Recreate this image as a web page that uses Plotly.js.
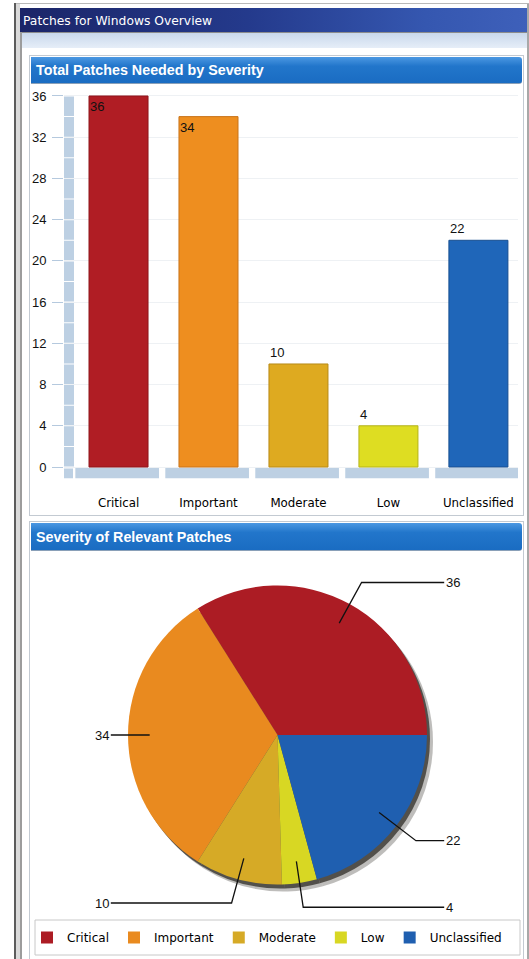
<!DOCTYPE html>
<html>
<head>
<meta charset="utf-8">
<script src="https://cdn.plot.ly/plotly-3.0.1.min.js"></script>
<style>
  html, body { margin:0; padding:0; background:#fff; width:529px; height:959px; overflow:hidden; }
  .c { position:absolute; }
  #chart { position:absolute; left:0; top:0; width:529px; height:959px; }
</style>
</head>
<body>
<!-- window chrome -->
<div class="c" style="left:14px;top:3px;width:515px;height:1px;background:#b9b9b9"></div>
<div class="c" style="left:14px;top:3px;width:2px;height:956px;background:#5c5c5c"></div>
<div class="c" style="left:16px;top:4px;width:4px;height:955px;background:#dadada"></div>
<div class="c" style="left:20px;top:32px;width:2px;height:927px;background:#9c9c9c"></div>
<div class="c" style="left:20px;top:8px;width:507px;height:24px;background:linear-gradient(to right,#1b2568 0%,#243a8c 45%,#3557b0 80%,#3e60ba 100%)"></div>
<div class="c" style="left:22px;top:32px;width:505px;height:1px;background:#8c8c8c"></div>
<div class="c" style="left:22px;top:33px;width:505px;height:15px;background:linear-gradient(#c9d8ec,#e6eef8)"></div>
<div class="c" style="left:527px;top:4px;width:2px;height:955px;background:#a8a8a8"></div>
<!-- panel 1 -->
<div class="c" style="left:29px;top:55px;width:493px;height:459px;border:1px solid #c3cad2;background:#fff"></div>
<div class="c" style="left:31px;top:57px;width:491px;height:26px;background:linear-gradient(#4b98e2,#2276cb 35%,#1a6cc2);border-bottom:1px solid #8aa0b8;border-top-right-radius:3px;border-bottom-right-radius:3px"></div>
<!-- panel 2 -->
<div class="c" style="left:29px;top:521px;width:493px;height:440px;border:1px solid #c3cad2;background:#fff"></div>
<div class="c" style="left:31px;top:523px;width:491px;height:27px;background:linear-gradient(#4b98e2,#2276cb 35%,#1a6cc2);border-bottom:1px solid #8aa0b8;border-top-right-radius:3px;border-bottom-right-radius:3px"></div>

<div id="chart"></div>
<script>
// ---------------- data ----------------
const categories = ['Critical', 'Important', 'Moderate', 'Low', 'Unclassified'];
const patchCounts = [36, 34, 10, 4, 22];
const barColors = ['#b01d24', '#ee8e1f', '#deaa20', '#dedd22', '#1f66b9'];
const barEdge   = ['#8e151b', '#c9741a', '#b88b18', '#b5b41a', '#174f91'];
const pieColors = ['#ac1c24', '#e98a1f', '#d6aa26', '#d8d723', '#1f5fb0'];
const yTickVals = [0, 4, 8, 12, 16, 20, 24, 28, 32, 36];
const windowTitle = 'Patches for Windows Overview';
const barPanelTitle = 'Total Patches Needed by Severity';
const piePanelTitle = 'Severity of Relevant Patches';

// ---------------- geometry helpers (figure = 529 x 959 px, margin 0) ----------------
const W = 529, H = 959;
const px = x => x / W;
const py = y => 1 - y / H;

const barXRange = [-0.606, 4.44];
const barYRange = [-1.2, 36.3];
const pieBox = { x0: 128, x1: 427, y0: 585.5, y1: 884.5 };

const numFont = { family: 'Liberation Sans, Arial, sans-serif', size: 13, color: '#111' };
const catFont = { family: 'DejaVu Sans, sans-serif', size: 11.8, color: '#000' };
const legFont = { family: 'DejaVu Sans, sans-serif', size: 12, color: '#000' };

const total = patchCounts.reduce((a, b) => a + b, 0);
// first slice starts at 3 o'clock and runs counterclockwise
const pieRotation = 90 - 360 * patchCounts[0] / total;

// ---------------- traces ----------------
const traces = [];

traces.push({
  type: 'bar',
  x: categories,
  y: patchCounts,
  width: 0.656,
  marker: { color: barColors, line: { color: barEdge, width: 1 } },
  xaxis: 'x', yaxis: 'y',
  showlegend: false,
  hoverinfo: 'x+y'
});

// pie shadows (same data, dark colours, offset)
const shadowOffsets = [[6, 7, 'rgba(40,38,30,0.3)'], [3, 4, 'rgba(25,22,15,0.65)']];
shadowOffsets.forEach(([dx, dy, col]) => {
  traces.push({
    type: 'pie',
    values: patchCounts,
    labels: categories,
    sort: false,
    direction: 'counterclockwise',
    rotation: pieRotation,
    textinfo: 'none',
    hoverinfo: 'skip',
    showlegend: false,
    marker: { colors: categories.map(() => col), line: { width: 0 } },
    domain: { x: [px(pieBox.x0 + dx), px(pieBox.x1 + dx)], y: [py(pieBox.y1 + dy), py(pieBox.y0 + dy)] }
  });
});

traces.push({
  type: 'pie',
  values: patchCounts,
  labels: categories,
  sort: false,
  direction: 'counterclockwise',
  rotation: pieRotation,
  textinfo: 'none',
  hoverinfo: 'label+value',
  showlegend: true,
  marker: { colors: pieColors, line: { width: 0 } },
  domain: { x: [px(pieBox.x0), px(pieBox.x1)], y: [py(pieBox.y1), py(pieBox.y0)] }
});

// ---------------- shapes & annotations ----------------
const shapes = [];
const annotations = [];

// 3D wall on the left of the bar plot
for (let v = 0; v < yTickVals[yTickVals.length - 1]; v += 2) {
  shapes.push({ type: 'rect', layer: 'below', xref: 'paper', yref: 'y',
    x0: px(64), x1: px(74), y0: v + 0.05, y1: v + 1.95,
    fillcolor: '#bdd0e3', line: { width: 0 } });
}
shapes.push({ type: 'rect', layer: 'below', xref: 'paper', yref: 'y',
  x0: px(64), x1: px(73), y0: -1.1, y1: -0.15, fillcolor: '#bdd0e3', line: { width: 0 } });
// floor segments under each category
categories.forEach((c, i) => {
  shapes.push({ type: 'rect', layer: 'below', xref: 'x', yref: 'y',
    x0: i - 0.48, x1: i + 0.45, y0: -1.1, y1: -0.1,
    fillcolor: '#bdd0e3', line: { width: 0 } });
});

// bar value labels
patchCounts.forEach((v, i) => {
  const inside = v > 30;
  annotations.push({
    xref: 'x', yref: 'y', x: i - 0.335, y: v,
    xanchor: 'left', yanchor: inside ? 'top' : 'bottom',
    yshift: inside ? -1 : 2,
    text: String(v), showarrow: false, font: numFont
  });
});

// panel header titles
const headFont = { family: 'Liberation Sans, Arial, sans-serif', size: 14.3, weight: 700, color: '#ffffff' };
annotations.push({ xref: 'paper', yref: 'paper', x: px(34), y: py(70.5), xanchor: 'left', yanchor: 'middle',
  text: barPanelTitle, showarrow: false, font: headFont });
annotations.push({ xref: 'paper', yref: 'paper', x: px(34), y: py(537), xanchor: 'left', yanchor: 'middle',
  text: piePanelTitle, showarrow: false, font: headFont });

// pie leader lines + labels computed from the data
const cx = (pieBox.x0 + pieBox.x1) / 2;
const cy = (pieBox.y0 + pieBox.y1) / 2;
const R = Math.min(pieBox.x1 - pieBox.x0, pieBox.y1 - pieBox.y0) / 2;
const endR = 1.115;
let acc = 0;
patchCounts.forEach((v, i) => {
  const mid = (acc + v / 2) / total * 2 * Math.PI; // counterclockwise from east
  acc += v;
  const cs = Math.cos(mid), sn = Math.sin(mid);
  const side = cs >= 0 ? 1 : -1;
  const p1 = [cx + 0.855 * R * cs, cy - 0.855 * R * sn];
  let p2 = [cx + 1.165 * R * cs, cy - 1.165 * R * sn];
  const p3 = [cx + side * endR * R, p2[1]];
  if (Math.abs(p2[0] - cx) > endR * R) { p2 = [p3[0], cy - 0.855 * R * sn]; p3[1] = p2[1]; }
  const path = `M${px(p1[0])},${py(p1[1])} L${px(p2[0])},${py(p2[1])} L${px(p3[0])},${py(p3[1])}`;
  shapes.push({ type: 'path', xref: 'paper', yref: 'paper', path: path, line: { color: '#111', width: 1.3 } });
  annotations.push({ xref: 'paper', yref: 'paper', x: px(p3[0]), y: py(p3[1]),
    xanchor: side > 0 ? 'left' : 'right', yanchor: 'middle',
    text: String(v), showarrow: false, font: numFont });
});

// legend frame
shapes.push({ type: 'rect', xref: 'paper', yref: 'paper', x0: px(35), x1: px(520), y0: py(955), y1: py(920),
  line: { color: '#c8c8c8', width: 1 }, fillcolor: 'rgba(0,0,0,0)' });

// ---------------- layout ----------------
const layout = {
  width: W, height: H,
  margin: { l: 0, r: 0, t: 0, b: 0, pad: 0 },
  paper_bgcolor: 'rgba(0,0,0,0)',
  plot_bgcolor: 'rgba(0,0,0,0)',
  title: { text: windowTitle, xref: 'paper', yref: 'paper', x: px(23), xanchor: 'left', y: py(20.5), yanchor: 'middle',
    font: { family: 'DejaVu Sans, sans-serif', size: 12.3, color: '#ffffff' } },
  xaxis: {
    domain: [px(64), px(518)], range: barXRange, type: 'category',
    showgrid: false, zeroline: false, showline: false,
    ticks: 'outside', ticklen: 12, tickcolor: 'rgba(0,0,0,0)',
    tickfont: catFont, fixedrange: true
  },
  yaxis: {
    domain: [py(479.4), py(92.9)], range: barYRange,
    tickmode: 'array', tickvals: yTickVals,
    ticks: 'outside', ticklen: 11, tickcolor: '#b5c9de', tickwidth: 1,
    ticklabelstandoff: 3,
    showgrid: true, gridcolor: '#eef1f4', zeroline: false, showline: false,
    tickfont: numFont, fixedrange: true
  },
  showlegend: true,
  legend: {
    orientation: 'h', x: px(27), xanchor: 'left', y: py(937.5), yanchor: 'middle',
    font: legFont, bgcolor: 'rgba(0,0,0,0)', borderwidth: 0,
    traceorder: 'normal'
  },
  shapes: shapes,
  annotations: annotations
};

Plotly.newPlot('chart', traces, layout, { displayModeBar: false, staticPlot: true });
</script>
</body>
</html>
